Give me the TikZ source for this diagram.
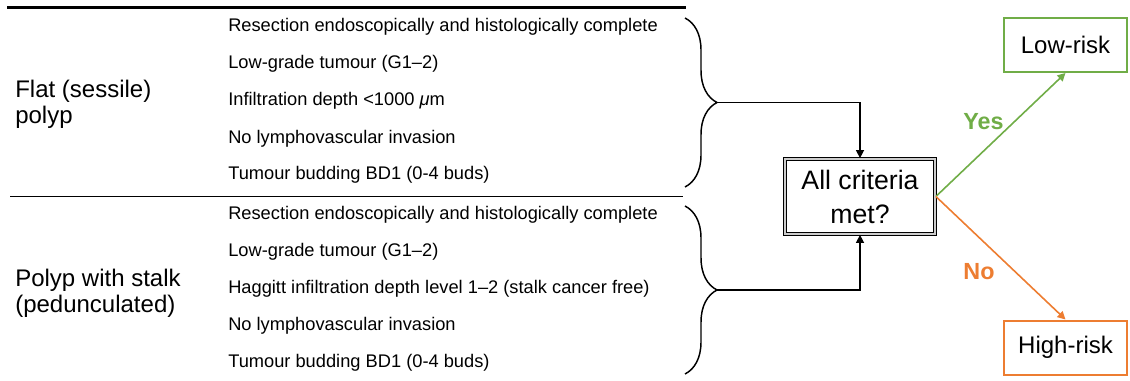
\documentclass[tikz,border=0pt]{standalone}
\usepackage{fontspec}
\setmainfont{Liberation Sans}
\usetikzlibrary{arrows.meta,calc,positioning,decorations.pathreplacing}
\definecolor{riskgreen}{RGB}{112,173,71}
\definecolor{riskorange}{RGB}{237,125,49}

\begin{document}
\begin{tikzpicture}[x=0.75pt,y=-0.75pt,>={Triangle[length=6pt,width=6pt]},
  crit/.style={anchor=base west,inner sep=0pt,font=\fontsize{13.7}{16}\selectfont},
  polyp/.style={anchor=west,align=left,inner sep=0pt,font=\fontsize{18}{19.5}\selectfont},
  riskbox/.style={draw,line width=1.5pt,minimum width=92.25pt,minimum height=40.5pt,font=\fontsize{18}{20}\selectfont},
  answer/.style={font=\bfseries\fontsize{17.5}{20}\selectfont},
  bracket/.style={decorate,decoration={brace,amplitude=24pt},line width=1.1pt}]
\useasboundingbox (0,0) rectangle (1130,381);
% rules
\draw[line width=2.25pt] (7,8)--(686,8);
\draw[line width=1pt] (10,196.5)--(683,196.5);
% polyp types
\node[polyp] (flat) at (15,104) {Flat (sessile)\\polyp};
\node[polyp] (stalk) at (15,293) {Polyp with stalk\\(pedunculated)};
% criteria
\foreach \txt [count=\i] in {Resection endoscopically and histologically complete,Low-grade tumour (G1–2),Infiltration depth <1000 \textit{μ}m,No lymphovascular invasion,Tumour budding BD1 (0-4 buds)}
  \node[crit] (flatc\i) at (228,{32+37*(\i-1)}) {\txt};
\foreach \txt [count=\i] in {Resection endoscopically and histologically complete,Low-grade tumour (G1–2),Haggitt infiltration depth level 1–2 (stalk cancer free),No lymphovascular invasion,Tumour budding BD1 (0-4 buds)}
  \node[crit] (stalkc\i) at (228,{219+37*(\i-1)}) {\txt};
% braces
\coordinate (b1a) at (685,18); \coordinate (b1b) at (685,187);
\coordinate (b2a) at (685,206); \coordinate (b2b) at (685,374);
\draw[bracket] (b1a) -- (b1b);
\draw[bracket] (b2a) -- (b2b);
\coordinate (tip1) at ($(b1a)!0.5!(b1b)+(32,0)$);
\coordinate (tip2) at ($(b2a)!0.5!(b2b)+(32,0)$);
% decision
\node[draw,double=black!20,line width=1.3pt,double distance=0.9pt,minimum width=112.5pt,minimum height=56.25pt,
  align=center,font=\fontsize{20}{25.5}\selectfont] (check) at (860,196.5) {All criteria\\met?};
\draw[->,line width=1pt] (tip1) -| (check.north);
\draw[->,line width=1pt] (tip2) -| (check.south);
% outcomes
\node[riskbox,draw=riskgreen] (low) at (1065.5,45) {Low-risk};
\node[riskbox,draw=riskorange] (high) at (1065.5,347.5) {High-risk};
\draw[->,riskgreen,line width=1.2pt] (check.east) -- (low.south);
\draw[->,riskorange,line width=1.2pt] (check.east) -- (high.north);
\node[answer,text=riskgreen] (yes) at (983.5,122) {Yes};
\node[answer,text=riskorange] (no) at (979,272) {No};
\end{tikzpicture}
\end{document}
